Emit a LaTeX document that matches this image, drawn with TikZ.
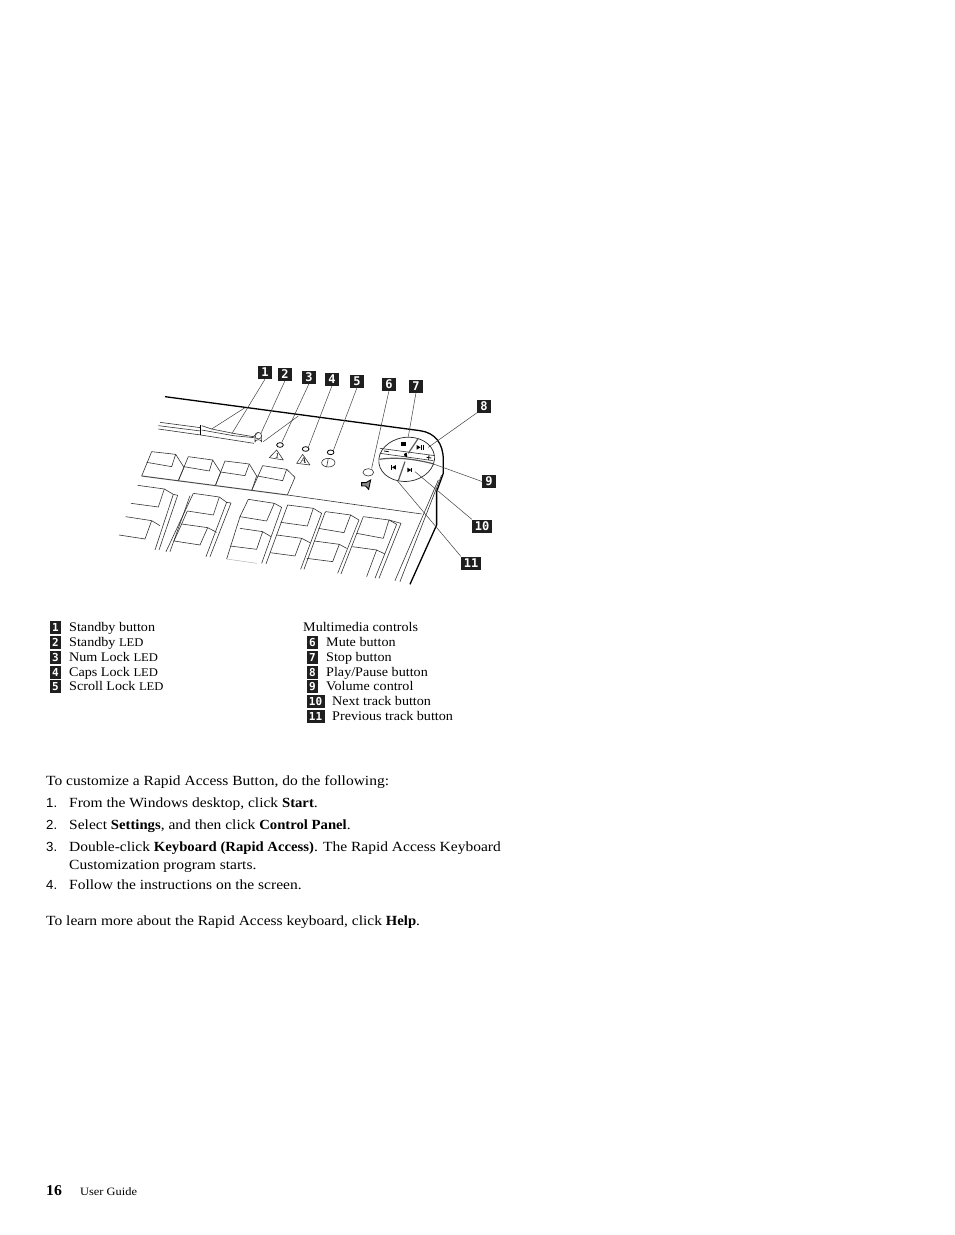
\documentclass[tikz,border=0pt]{standalone}
\usepackage{fontspec}
\setmainfont[FakeStretch=1.107,BoldFeatures={FakeStretch=1.05}]{Liberation Serif}
\newfontfamily\legfont[FakeStretch=1.07]{Liberation Serif}
\newfontfamily\numfont{Liberation Sans}
\newfontfamily\badgefont{DejaVu Sans Mono}
\newcommand{\led}{{\fontsize{11.8}{15}\selectfont LED}}
\tikzset{
  thin line/.style={line width=0.6pt,draw=black!80,line join=round},
  call line/.style={line width=0.5pt,draw=black!75},
  zoomed/.style={shift={(110,360)},x=0.3333pt,y=-0.3333pt},
  badge/.style={fill=black!88,text=white,inner sep=0pt,minimum width=13.5pt,minimum height=13pt,font=\badgefont\bfseries\fontsize{12}{12}\selectfont},
  lbadge/.style={fill=black!88,text=white,inner sep=0pt,minimum width=11.5pt,minimum height=13pt,font=\badgefont\bfseries\fontsize{11}{11}\selectfont},
  wbadge/.style={lbadge,minimum width=18pt},
  legend/.style={anchor=base west,inner sep=0pt,font=\legfont\fontsize{13.2}{15}\selectfont},
  body/.style={anchor=base west,inner sep=0pt,font=\fontsize{14}{16}\selectfont},
  num/.style={anchor=base west,inner sep=0pt,font=\numfont\fontsize{13.2}{16}\selectfont},
}
\begin{document}
\begin{tikzpicture}[x=1pt,y=-1pt]
\useasboundingbox[fill=white] (0,0) rectangle (954,1235);
% keyboard drawing in zoomed coordinates
\begin{scope}[zoomed]
% outline
\draw[line width=1.3pt,line join=round] (165,110) -- (930,212) .. controls (975,218) and (1000,250) .. (1000,300) -- (1000,340) -- (980,395) -- (980,495) -- (900,673);
% top key row
\draw[thin line] (125,275)--(197,283)--(185,320)--(110,307);
\draw[thin line] (197,283)--(222,322)--(205,362);
\draw[thin line] (125,275)--(95,348);
\draw[thin line] (235,290)--(308,300)--(298,333)--(222,320);
\draw[thin line] (308,300)--(332,337)--(316,377);
\draw[thin line] (235,290)--(205,362);
\draw[thin line] (345,303)--(418,312)--(405,347)--(332,336);
\draw[thin line] (418,312)--(440,348)--(425,392);
\draw[thin line] (345,303)--(316,377);
\draw[thin line] (458,317)--(530,328)--(518,362)--(442,348);
\draw[thin line] (530,328)--(555,352)--(532,405);
\draw[thin line] (458,317)--(425,392);
\draw[line width=1pt,draw=black!70] (95,348)--(532,405);
\draw[thin line] (532,405)--(935,462);
% left group
\draw[thin line] (83,376)--(163,387)--(145,441)--(63,430);
\draw[thin line] (163,387)--(190,403)--(135,570);
\draw[thin line] (190,403)--(203,406)--(147,570);
\draw[thin line] (47,470)--(125,482)--(105,537)--(27,525);
\draw[thin line] (125,482)--(150,497);
% second group
\draw[thin line] (250,400)--(328,411)--(310,465)--(232,453);
\draw[thin line] (250,400)--(168,575);
\draw[thin line] (240,407)--(180,575);
\draw[thin line] (328,411)--(350,427)--(288,590);
\draw[thin line] (350,427)--(363,429)--(300,590);
\draw[thin line] (215,492)--(293,503)--(270,555)--(192,543)--(215,492);
\draw[thin line] (293,503)--(320,517);
\draw[thin line] (232,453)--(215,492);
% third group
\draw[thin line] (415,418)--(493,430)--(470,483)--(390,470)--(415,418);
\draw[thin line] (493,430)--(515,442)--(455,610);
\draw[thin line] (533,435)--(468,612);
\draw[thin line] (390,505)--(458,515)--(440,568)--(360,558);
\draw[thin line] (390,470)--(350,597);
\draw[line width=0.4pt,draw=black!35] (350,597)--(440,610);
\draw[thin line] (458,515)--(483,530);
% fourth group
\draw[thin line] (533,435)--(610,445)--(592,498)--(512,487);
\draw[thin line] (610,445)--(635,460)--(572,628);
\draw[thin line] (648,455)--(645,458)--(582,628);
\draw[thin line] (500,525)--(575,535)--(555,588)--(480,578);
\draw[thin line] (575,535)--(600,548);
% fifth group
\draw[thin line] (648,455)--(722,465)--(702,518)--(625,505);
\draw[thin line] (722,465)--(747,480)--(683,640);
\draw[thin line] (760,470)--(693,642);
\draw[thin line] (612,543)--(688,553)--(668,605)--(590,595);
\draw[thin line] (688,553)--(710,565);
% sixth group
\draw[thin line] (760,470)--(837,480)--(820,535)--(740,520);
\draw[thin line] (837,480)--(860,493)--(795,655);
\draw[thin line] (837,480)--(873,490)--(807,655);
\draw[thin line] (727,560)--(800,570)--(770,650);
\draw[thin line] (800,570)--(825,582);
% right edge
\draw[thin line] (985,360)--(855,662);
\draw[thin line] (995,345)--(870,665);
% standby bar
\draw[thin line] (150,187)--(272,203);
\draw[thin line] (145,197)--(272,213);
\draw[thin line] (145,207)--(272,225)--(432,250);
\draw[thin line] (275,197)--(305,207)--(370,220)--(430,230)--(442,220);
\draw[thin line] (275,210)--(370,227)--(432,233);
\draw[line width=1pt] (273,195)--(273,226);
\draw[thin line] (445,227) ellipse (10 and 10);
\draw[thin line] (435,227)--(435,246) arc[start angle=180,end angle=360,x radius=10,y radius=7] -- (455,227);
\coordinate (b1) at (305,207);
\coordinate (b1t) at (405,143);
\coordinate (b2) at (460,245);
\coordinate (b2t) at (565,168);
\draw[call line] (b1)--(b1t);
\draw[call line] (b2)--(b2t);
% LEDs
\draw[line width=0.8pt] (510,255) ellipse (10 and 7);
\draw[line width=0.8pt] (587,267) ellipse (10 and 7);
\draw[line width=0.8pt] (662,277) ellipse (10 and 7);
% LED icons
\draw[thin line] (500,270)--(520,300)--(478,293)--cycle;
\node[inner sep=0pt,font=\fontsize{7.5}{7.5}\selectfont\itshape] (iconn) at (502,289) {1};
\draw[thin line] (578,283)--(600,315)--(560,310)--cycle;
\node[inner sep=0pt,font=\fontsize{8.5}{8.5}\selectfont\itshape] (iconc) at (580,303) {A};
\draw[thin line] (655,308) ellipse (20 and 13);
\draw[thin line] (655,295)--(650,321);
% mute
\draw[thin line] (775,337) ellipse (16 and 11);
\draw[line width=0.9pt,fill=black!45] (755,368)--(768,368)--(782,360)--(776,388)--(767,378)--(755,378)--cycle;
% multimedia disc
\draw[line width=0.7pt,draw=black!85,rotate around={8:(890,298)}] (890,298) ellipse (84 and 66);
\draw[thin line] (810,265)--(975,287);
\draw[thin line] (810,280)--(970,302);
\draw[line width=1.2pt,draw=black!65] (808,298) .. controls (860,290) and (920,298) .. (972,312);
\draw[line width=1.2pt,draw=black!65] (925,235)--(895,280);
\draw[line width=1.2pt,draw=black!65] (885,305)--(865,362);
\fill (874,246) rectangle (888,258);
% play/pause
\fill (920,255)--(932,262)--(920,269)--cycle;
\fill (932,255) rectangle (936,269);
\fill (939,255) rectangle (942,269);
% minus, plus
\draw[line width=0.8pt] (822,273)--(836,275);
\draw[line width=0.8pt] (950,292)--(964,294);
\draw[line width=0.8pt] (957,285)--(956,300);
% small speaker
\fill (882,282)--(890,278)--(892,292)--(884,289)--cycle;
% prev
\fill (843,315) rectangle (846,329);
\fill (858,315)--(858,329)--(846,322)--cycle;
% next
\fill (892,323)--(904,330)--(892,337)--cycle;
\fill (904,323) rectangle (907,337);
% callout free ends
\coordinate (e1) at (365,222);
\coordinate (e2) at (452,222);
\coordinate (e3) at (515,248);
\coordinate (e4) at (595,262);
\coordinate (e5) at (670,272);
\coordinate (e6) at (785,325);
\coordinate (e7) at (895,230);
\coordinate (e8) at (955,262);
\coordinate (e9) at (965,310);
\coordinate (e10) at (915,335);
\coordinate (e11) at (860,360);
\end{scope}
% callouts
\node[badge] (c1) at (265,372.5) {1};
\node[badge] (c2) at (285,374) {2};
\node[badge] (c3) at (309,377) {3};
\node[badge] (c4) at (332,379) {4};
\node[badge] (c5) at (357,381) {5};
\node[badge] (c6) at (389,384) {6};
\node[badge] (c7) at (416,386) {7};
\node[badge] (c8) at (484,406) {8};
\node[badge] (c9) at (489,481.5) {9};
\node[badge,minimum width=20pt] (c10) at (482,526) {10};
\node[badge,minimum width=20pt] (c11) at (471,563) {11};
\draw[call line] (c1.south) -- (e1);
\draw[call line] (c2.south) -- (e2);
\draw[call line] (c3.south) -- (e3);
\draw[call line] (c4.south) -- (e4);
\draw[call line] (c5.south) -- (e5);
\draw[call line] (c6.south) -- (e6);
\draw[call line] (c7.south) -- (e7);
\draw[call line] (c8.south west) -- (e8);
\draw[call line] (c9.west) -- (e9);
\draw[call line] (c10.north west) -- (e10);
\draw[call line] (c11.north west) -- (e11);
% legend left
\node[lbadge] (l1) at (55.5,627.5) {1};
\node[lbadge] (l2) at (55.5,642.5) {2};
\node[lbadge] (l3) at (55.5,657.5) {3};
\node[lbadge] (l4) at (55.5,672) {4};
\node[lbadge] (l5) at (55.5,686.5) {5};
\node[legend] (t1) at (69,631) {Standby button};
\node[legend] (t2) at (69,646) {Standby \led};
\node[legend] (t3) at (69,661) {Num Lock \led};
\node[legend] (t4) at (69,676) {Caps Lock \led};
\node[legend] (t5) at (69,690) {Scroll Lock \led};
% legend right
\node[legend] (mm) at (303,631) {Multimedia controls};
\node[lbadge] (l6) at (312.5,642.5) {6};
\node[lbadge] (l7) at (312.5,657.5) {7};
\node[lbadge] (l8) at (312.5,672) {8};
\node[lbadge] (l9) at (312.5,686.5) {9};
\node[wbadge] (l10) at (315.5,701) {10};
\node[wbadge] (l11) at (315.5,716) {11};
\node[legend] (t6) at (326,646) {Mute button};
\node[legend] (t7) at (326,661) {Stop button};
\node[legend] (t8) at (326,676) {Play/Pause button};
\node[legend] (t9) at (326,690) {Volume control};
\node[legend] (t10) at (332,705) {Next track button};
\node[legend] (t11) at (332,720) {Previous track button};
% body
\node[body] (p1) at (46,785) {To customize a Rapid Access Button, do the following:};
\node[num] (n1) at (46,807) {1.};
\node[body] (s1) at (69,807) {From the Windows desktop, click \textbf{Start}.};
\node[num] (n2) at (46,829) {2.};
\node[body] (s2) at (69,829) {Select \textbf{Settings}, and then click \textbf{Control Panel}.};
\node[num] (n3) at (46,851) {3.};
\node[body] (s3) at (69,851) {Double-click \textbf{Keyboard (Rapid Access)}. The Rapid Access Keyboard};
\node[body] (s3b) at (69,869) {Customization program starts.};
\node[num] (n4) at (46,889) {4.};
\node[body] (s4) at (69,889) {Follow the instructions on the screen.};
\node[body] (p2) at (46,925) {To learn more about the Rapid Access keyboard, click \textbf{Help}.};
\node[anchor=base west,inner sep=0pt,font=\bfseries\fontsize{15}{16}\selectfont] (pg) at (46,1195) {16};
\node[anchor=base west,inner sep=0pt,font=\fontsize{11.2}{12}\selectfont] (ug) at (80,1195) {User Guide};
\end{tikzpicture}
\end{document}
